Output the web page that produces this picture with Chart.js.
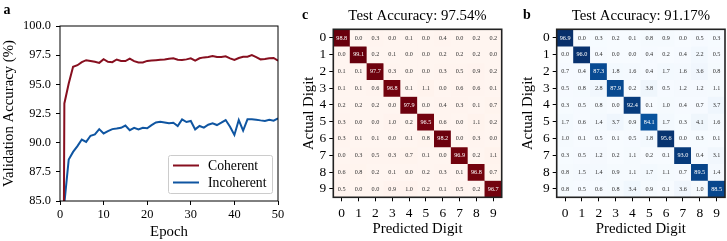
<!DOCTYPE html>
<html lang="en">
<head>
<meta charset="utf-8">
<title>Accuracy and confusion matrices</title>
<style>
  body { margin: 0; background: #fff; }
  #wrap { position: relative; width: 727px; height: 241px; overflow: hidden; }
  canvas { position: absolute; top: 0; }
</style>
</head>
<body>
<div id="wrap">
  <canvas id="lineChart" width="290" height="241" style="left:0"></canvas>
  <canvas id="cohChart" width="225" height="241" style="left:290px"></canvas>
  <canvas id="incChart" width="214" height="241" style="left:513px"></canvas>
</div>
<script src="https://cdn.jsdelivr.net/npm/chart.js@4.4.1/dist/chart.umd.min.js"></script>
<script>
// ---- data ----
const EPOCHS = [0,1,2,3,4,5,6,7,8,9,10,11,12,13,14,15,16,17,18,19,20,21,22,23,24,25,
  26,27,28,29,30,31,32,33,34,35,36,37,38,39,40,41,42,43,44,45,46,47,48,49,50];
const COHERENT = [10, 93.36, 95.07, 96.5, 96.64, 96.9, 97.07, 97.0, 96.93, 96.84, 97.16,
  96.93, 96.9, 97.13, 97.0, 97.0, 97.21, 96.99, 96.87, 96.87, 97.01, 97.04, 97.07, 97.1,
  97.13, 97.2, 97.23, 97.11, 97.09, 97.14, 97.23, 97.03, 97.23, 97.31, 97.34, 97.43, 97.34,
  97.34, 97.4, 97.23, 97.09, 97.26, 97.37, 97.37, 97.51, 97.34, 97.14, 97.17, 97.23, 97.26, 97.03];
const INCOHERENT = [10, 84.8, 88.56, 89.21, 89.7, 90.27, 90.07, 90.59, 90.7, 91.16, 90.79,
  90.99, 91.16, 91.21, 91.27, 91.47, 91.07, 91.27, 91.13, 91.27, 91.24, 91.5, 91.73, 91.79,
  91.73, 91.66, 91.71, 91.43, 92.0, 91.77, 91.86, 91.14, 91.43, 91.29, 91.54, 91.66, 91.51,
  91.71, 91.94, 91.37, 90.66, 91.94, 91.03, 92.0, 92.0, 91.97, 91.91, 91.86, 91.97, 91.89, 92.09];
const Y_TICKS = [85, 87.5, 90, 92.5, 95, 97.5, 100];
const X_TICKS = [0, 10, 20, 30, 40, 50];

const DIGITS = ['0','1','2','3','4','5','6','7','8','9'];
const CONF_COHERENT = [
  [98.8, 0.0, 0.3, 0.0, 0.1, 0.0, 0.4, 0.0, 0.2, 0.2],
  [0.0, 99.1, 0.2, 0.1, 0.0, 0.0, 0.2, 0.2, 0.2, 0.0],
  [0.1, 0.1, 97.7, 0.3, 0.0, 0.0, 0.3, 0.5, 0.9, 0.2],
  [0.1, 0.1, 0.6, 96.8, 0.1, 1.1, 0.0, 0.6, 0.6, 0.1],
  [0.2, 0.2, 0.2, 0.0, 97.9, 0.0, 0.4, 0.3, 0.1, 0.7],
  [0.3, 0.0, 0.0, 1.0, 0.2, 96.5, 0.6, 0.0, 1.1, 0.2],
  [0.3, 0.1, 0.1, 0.0, 0.1, 0.8, 98.2, 0.0, 0.3, 0.0],
  [0.0, 0.3, 0.5, 0.3, 0.7, 0.1, 0.0, 96.9, 0.2, 1.1],
  [0.6, 0.8, 0.2, 0.1, 0.0, 0.2, 0.3, 0.1, 96.8, 0.7],
  [0.5, 0.0, 0.0, 0.9, 1.0, 0.2, 0.1, 0.5, 0.2, 96.7]
];
const CONF_INCOHERENT = [
  [96.9, 0.0, 0.3, 0.2, 0.1, 0.8, 0.9, 0.0, 0.5, 0.3],
  [0.0, 96.0, 0.4, 0.0, 0.0, 0.4, 0.2, 0.4, 2.2, 0.5],
  [0.7, 0.4, 87.3, 1.8, 1.6, 0.4, 1.7, 1.6, 3.6, 0.8],
  [0.5, 0.8, 2.8, 87.9, 0.2, 3.8, 0.5, 1.2, 1.2, 1.1],
  [0.3, 0.5, 0.8, 0.0, 92.4, 0.1, 1.0, 0.4, 0.7, 3.7],
  [1.7, 0.6, 1.4, 3.7, 0.9, 84.1, 1.7, 0.3, 4.1, 1.6],
  [1.0, 0.1, 0.5, 0.1, 0.5, 1.8, 95.6, 0.0, 0.3, 0.1],
  [0.3, 0.5, 1.2, 0.2, 1.1, 0.2, 0.1, 93.0, 0.4, 3.1],
  [0.8, 1.5, 1.4, 0.9, 1.1, 1.7, 1.1, 0.7, 89.5, 1.4],
  [0.8, 0.5, 0.6, 0.8, 3.4, 0.9, 0.1, 3.6, 1.0, 88.5]
];
const ACC_COHERENT = '97.54';
const ACC_INCOHERENT = '91.17';

// ---- styling ----
const SERIF = '"Liberation Serif", "Times New Roman", serif';
const RED = '#870f1f';
const BLUE = '#0f55a1';
const REDS = ['#fff5f0','#fee0d2','#fcbba1','#fc9272','#fb6a4a','#ef3b2c','#cb181d','#a50f15','#67000d'];
const BLUES = ['#f7fbff','#deebf7','#c6dbef','#9ecae1','#6baed6','#4292c6','#2171b5','#08519c','#08306b'];

function hex(c) { return [1,3,5].map(i => parseInt(c.substr(i,2),16)); }
function cmap(stops, t) {
  t = Math.max(0, Math.min(1, t));
  const p = t * (stops.length - 1);
  const i = Math.min(Math.floor(p), stops.length - 2);
  const f = p - i;
  const a = hex(stops[i]), b = hex(stops[i+1]);
  const c = a.map((v, k) => Math.round(v + (b[k] - v) * f));
  return 'rgb(' + c.join(',') + ')';
}

// frame round the plot area plus panel letter and title
const framePlugin = {
  id: 'frame',
  afterDatasetsDraw(chart, args, opts) {
    const {ctx, chartArea: a} = chart;
    ctx.save();
    ctx.strokeStyle = opts.color || '#000';
    ctx.lineWidth = opts.width || 1;
    ctx.strokeRect(a.left, a.top, a.right - a.left, a.bottom - a.top);
    ctx.fillStyle = '#000';
    ctx.textBaseline = 'middle';
    if (opts.letter) {
      ctx.font = 'bold 14px ' + SERIF;
      ctx.textAlign = 'center';
      ctx.fillText(opts.letter, opts.letterX, opts.letterY);
    }
    if (opts.title) {
      ctx.font = '14.8px ' + SERIF;
      ctx.textAlign = 'center';
      ctx.fillText(opts.title, (a.left + a.right) / 2, opts.titleY);
    }
    ctx.restore();
  }
};

// legend drawn inside the plot area, lower right
const insideLegend = {
  id: 'insideLegend',
  afterDraw(chart) {
    const {ctx, chartArea: a} = chart;
    const w = 104, h = 38;
    const x0 = a.right - 6 - w, y0 = a.bottom - 8 - h;
    ctx.save();
    ctx.fillStyle = 'rgba(255,255,255,0.85)';
    ctx.strokeStyle = '#cccccc';
    ctx.lineWidth = 1;
    ctx.beginPath();
    ctx.roundRect(x0 + 0.5, y0 + 0.5, w, h, 2);
    ctx.fill();
    ctx.stroke();
    ctx.font = '13.7px ' + SERIF;
    ctx.textBaseline = 'middle';
    ctx.textAlign = 'left';
    chart.data.datasets.forEach((ds, i) => {
      const y = y0 + 10.5 + i * 17;
      ctx.strokeStyle = ds.borderColor;
      ctx.lineWidth = 2;
      ctx.beginPath();
      ctx.moveTo(x0 + 5, y);
      ctx.lineTo(x0 + 31, y);
      ctx.stroke();
      ctx.fillStyle = '#000';
      ctx.fillText(ds.label, x0 + 40, y + 0.5);
    });
    ctx.restore();
  }
};

// cell values on the confusion matrices
const cellText = {
  id: 'cellText',
  afterDatasetsDraw(chart, args, opts) {
    const {ctx} = chart;
    ctx.save();
    ctx.font = '6.2px ' + SERIF;
    ctx.textAlign = 'center';
    ctx.textBaseline = 'middle';
    chart.data.datasets.forEach((ds, r) => {
      chart.getDatasetMeta(r).data.forEach((el, c) => {
        const v = ds.values[c];
        const p = el.getCenterPoint();
        ctx.fillStyle = v > opts.vmax / 2 ? '#ffffff' : '#333333';
        ctx.fillText(v.toFixed(1), p.x, p.y + 0.3);
      });
    });
    ctx.restore();
  }
};

// ---- panel a: validation accuracy ----
new Chart(document.getElementById('lineChart'), {
  type: 'line',
  data: {
    datasets: [
      { label: 'Coherent', data: EPOCHS.map((e, i) => ({x: e, y: COHERENT[i]})),
        borderColor: RED, borderWidth: 2, pointRadius: 0, tension: 0, clip: 0 },
      { label: 'Incoherent', data: EPOCHS.map((e, i) => ({x: e, y: INCOHERENT[i]})),
        borderColor: BLUE, borderWidth: 2, pointRadius: 0, tension: 0, clip: 0 }
    ]
  },
  options: {
    responsive: false,
    animation: false,
    layout: { padding: { top: 26, right: 12, left: 0, bottom: 0 } },
    plugins: {
      legend: { display: false },
      tooltip: { enabled: false },
      frame: { letter: 'a', letterX: 7, letterY: 10, width: 1 }
    },
    scales: {
      x: {
        type: 'linear', min: 0, max: 50,
        afterBuildTicks: s => { s.ticks = X_TICKS.map(v => ({value: v})); },
        afterFit: s => { s.height = 40; },
        border: { display: false },
        grid: { drawOnChartArea: false, tickLength: 4, color: '#000' },
        ticks: { color: '#000', padding: 2, maxRotation: 0, autoSkip: false, font: { family: SERIF, size: 12.4 } },
        title: { display: true, text: 'Epoch', color: '#000', padding: { top: 0, bottom: 0 },
                 font: { family: SERIF, size: 14.8 } }
      },
      y: {
        min: 85, max: 100,
        afterBuildTicks: s => { s.ticks = Y_TICKS.map(v => ({value: v})); },
        afterFit: s => { s.width = 60; },
        border: { display: false },
        grid: { drawOnChartArea: false, tickLength: 4, color: '#000' },
        ticks: { color: '#000', padding: 5, autoSkip: false, callback: v => v.toFixed(1), font: { family: SERIF, size: 12.4 } },
        title: { display: true, text: 'Validation Accuracy (%)', color: '#000', padding: { top: 0, bottom: 0 },
                 font: { family: SERIF, size: 14.8 } }
      }
    }
  },
  plugins: [framePlugin, insideLegend]
});

// ---- panels c and b: confusion matrices ----
function matrixChart(id, matrix, stops, acc, letter, letterX, padLeftTitle, yWidth, padRight) {
  const vmax = Math.max(...matrix.flat());
  const datasets = matrix.map((row, r) => ({
    values: row,
    data: row.map(() => [r - 0.5, r + 0.5]),
    backgroundColor: row.map(v => cmap(stops, v / vmax)),
    borderWidth: 0,
    grouped: false,
    barPercentage: 1,
    categoryPercentage: 1
  }));
  return new Chart(document.getElementById(id), {
    type: 'bar',
    data: { labels: DIGITS, datasets },
    options: {
      responsive: false,
      animation: false,
      layout: { padding: { top: 29.3, right: padRight, left: 0, bottom: 0 } },
      plugins: {
        legend: { display: false },
        tooltip: { enabled: false },
        cellText: { vmax },
        frame: { width: 1.6, color: '#222', letter, letterX, letterY: 15,
                 title: 'Test Accuracy: ' + acc + '%', titleY: 16 }
      },
      scales: {
        x: {
          afterFit: s => { s.height = 43.7; },
          border: { display: false },
          grid: { drawOnChartArea: false, tickLength: 4, color: '#000', offset: false },
          ticks: { color: '#000', padding: 4, autoSkip: false, maxRotation: 0, font: { family: SERIF, size: 13.4 } },
          title: { display: true, text: 'Predicted Digit', color: '#000', padding: { top: 0, bottom: 2.8 },
                   font: { family: SERIF, size: 14.8 } }
        },
        y: {
          type: 'linear', reverse: true, min: -0.5, max: 9.5,
          afterBuildTicks: s => { s.ticks = DIGITS.map(d => ({value: +d})); },
          afterFit: s => { s.width = yWidth; },
          border: { display: false },
          grid: { drawOnChartArea: false, tickLength: 4, color: '#000' },
          ticks: { color: '#000', padding: 3, autoSkip: false, font: { family: SERIF, size: 13.4 } },
          title: { display: true, text: 'Actual Digit', color: '#000', padding: { top: padLeftTitle, bottom: 0 },
                   font: { family: SERIF, size: 14.8 } }
        }
      }
    },
    plugins: [cellText, framePlugin]
  });
}

matrixChart('cohChart', CONF_COHERENT, REDS, ACC_COHERENT, 'c', 15, 10.4, 43.3, 13.3);
matrixChart('incChart', CONF_INCOHERENT, BLUES, ACC_INCOHERENT, 'b', 14, 6.4, 43.7, 2);
</script>
</body>
</html>
